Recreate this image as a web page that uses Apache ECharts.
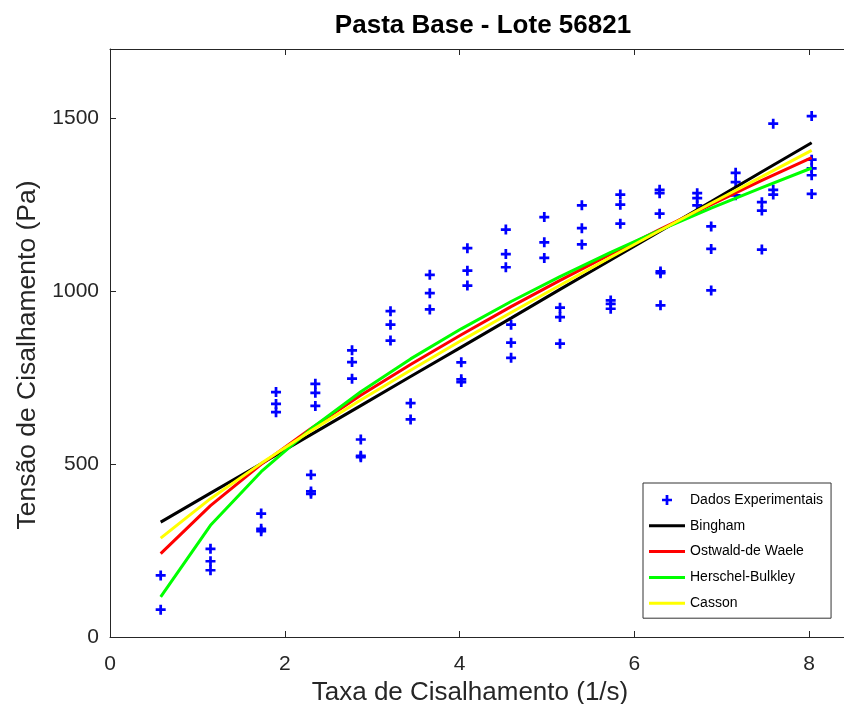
<!DOCTYPE html>
<html>
<head>
<meta charset="utf-8">
<script src="https://cdn.jsdelivr.net/npm/echarts@6/dist/echarts.min.js"></script>
<style>
html,body{margin:0;padding:0;background:#fff;}
#chart{width:844px;height:704px;}
</style>
</head>
<body>
<div id="chart"></div>
<script>
// Shear rates (1/s) – two interleaved measurement sets
const xLow  = [0.58, 1.15, 1.73, 2.30, 2.87, 3.44, 4.02, 4.59, 5.15, 5.73, 6.30, 6.88, 7.46, 8.03];
const yLow1 = [178, 255, 357, 469, 571, 676, 794, 903, 952, 973, 1057, 1187, 1257, 1355];
const yLow2 = [79, 219, 313, 421, 524, 629, 745, 851, 925, 963, 1052, 1122, 1233, 1335];
const yLow3 = [null, 193, 306, 414, 520, null, 737, 807, 848, 949, 959, 1002, 1120, 1281];

const xHigh  = [1.90, 2.35, 2.77, 3.21, 3.66, 4.09, 4.53, 4.97, 5.40, 5.84, 6.29, 6.72, 7.16, 7.59, 8.03];
const yHigh1 = [708, 732, 829, 942, 1047, 1124, 1178, 1214, 1248, 1279, 1293, 1283, 1342, 1484, 1506];
const yHigh2 = [674, 706, 795, 903, 994, 1059, 1107, 1141, 1182, 1250, 1283, 1269, 1315, 1293, 1380];
const yHigh3 = [650, 668, 747, 857, 947, 1016, 1069, 1096, 1135, 1195, 1224, 1248, 1277, 1279, null];

// Fitted model curves read at the xLow shear rates
const bingham  = [332, 416, 501, 585, 669, 753, 838, 922, 1005, 1090, 1174, 1259, 1345, 1429];
const ostwald  = [241, 380, 499, 603, 699, 788, 874, 955, 1031, 1107, 1179, 1250, 1320, 1386];
const herschel = [116, 323, 478, 602, 709, 804, 891, 970, 1042, 1112, 1177, 1240, 1299, 1356];
const casson   = [286, 400, 502, 596, 685, 771, 857, 938, 1017, 1098, 1176, 1254, 1331, 1407];

const seriesNames = ['Dados Experimentais', 'Bingham', 'Ostwald-de Waele', 'Herschel-Bulkley', 'Casson'];
const xTicks = [0, 2, 4, 6, 8];
const yTicks = [0, 500, 1000, 1500];

function pairs(xs, ys) {
  const out = [];
  xs.forEach((x, i) => { if (ys[i] !== null && ys[i] !== undefined) out.push([x, ys[i]]); });
  return out;
}
const scatterData = [].concat(
  pairs(xLow, yLow1), pairs(xLow, yLow2), pairs(xLow, yLow3),
  pairs(xHigh, yHigh1), pairs(xHigh, yHigh2), pairs(xHigh, yHigh3)
);

const PLUS = 'path://M4,0 L7,0 L7,4 L11,4 L11,7 L7,7 L7,11 L4,11 L4,7 L0,7 L0,4 L4,4 Z';
const BAR = 'path://M0,0 L36,0 L36,3 L0,3 Z';
const FONT = '"Liberation Sans", Arial, Helvetica, sans-serif';
const AX = '#262626';

const chart = echarts.init(document.getElementById('chart'), null, {renderer: 'canvas'});

function lineSeries(name, vals, color) {
  return {
    name: name, type: 'line', xAxisIndex: 0, yAxisIndex: 0,
    data: pairs(xLow, vals), symbol: 'none', smooth: false,
    lineStyle: {color: color, width: 3}, itemStyle: {color: color},
    animation: false, z: 3
  };
}

chart.setOption({
  animation: false,
  backgroundColor: '#fff',
  title: {
    text: 'Pasta Base - Lote 56821',
    left: 478, top: 8, textAlign: 'center',
    textStyle: {fontFamily: FONT, fontWeight: 'bold', fontSize: 26, color: '#000'}
  },
  grid: {left: 110, top: 49, right: 0, bottom: 67, containLabel: false, outerBoundsMode: 'none'},
  legend: {
    orient: 'vertical', left: 643, top: 483,
    padding: [9, 8, 7, 6], itemGap: 9.8,
    itemWidth: 36, itemHeight: 10,
    backgroundColor: '#fff', borderColor: '#333', borderWidth: 1,
    textStyle: {fontFamily: FONT, fontSize: 14, color: '#000', lineHeight: 16},
    data: [
      {name: seriesNames[0], icon: PLUS},
      {name: seriesNames[1], icon: BAR},
      {name: seriesNames[2], icon: BAR},
      {name: seriesNames[3], icon: BAR},
      {name: seriesNames[4], icon: BAR}
    ]
  },
  xAxis: [{
    type: 'value', min: 0, max: 8.4, interval: 2,
    name: 'Taxa de Cisalhamento (1/s)', nameLocation: 'middle', nameGap: 37,
    nameTextStyle: {fontFamily: FONT, fontSize: 26, color: AX, padding: [0, 14, 0, 0]},
    axisLine: {show: true, onZero: false, lineStyle: {color: AX, width: 1}},
    axisTick: {show: true, inside: true, length: 6, lineStyle: {color: AX}},
    axisLabel: {fontFamily: FONT, fontSize: 21, color: AX, margin: 17, showMaxLabel: false,
      formatter: v => (xTicks.indexOf(v) >= 0 ? String(v) : '')},
    splitLine: {show: false}
  }, {
    type: 'value', position: 'top', min: 0, max: 8.4, interval: 2,
    axisLine: {show: true, onZero: false, lineStyle: {color: AX, width: 1}},
    axisTick: {show: true, inside: true, length: 6, lineStyle: {color: AX}},
    axisLabel: {show: false}, splitLine: {show: false}
  }],
  yAxis: [{
    type: 'value', min: 0, max: 1700, interval: 500,
    name: 'Tensão de Cisalhamento (Pa)', nameLocation: 'middle', nameGap: 68,
    nameTextStyle: {fontFamily: FONT, fontSize: 26.5, color: AX, padding: [0, 24, 0, 0]},
    axisLine: {show: true, onZero: false, lineStyle: {color: AX, width: 1}},
    axisTick: {show: true, inside: true, length: 6, lineStyle: {color: AX}},
    axisLabel: {fontFamily: FONT, fontSize: 21, color: AX, margin: 11, showMaxLabel: false,
      formatter: v => (yTicks.indexOf(v) >= 0 ? String(v) : '')},
    splitLine: {show: false}
  }],
  series: [
    {
      name: seriesNames[0], type: 'scatter', data: scatterData,
      symbol: PLUS, symbolSize: 10,
      itemStyle: {color: '#0000ff', opacity: 1}, z: 2, animation: false
    },
    lineSeries(seriesNames[1], bingham, '#000000'),
    lineSeries(seriesNames[2], ostwald, '#ff0000'),
    lineSeries(seriesNames[3], herschel, '#00ff00'),
    lineSeries(seriesNames[4], casson, '#ffff00')
  ]
});
</script>
</body>
</html>
